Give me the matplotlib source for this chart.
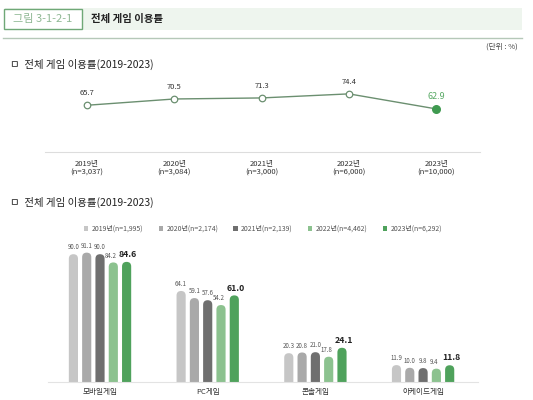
import matplotlib
matplotlib.use("Agg")
import matplotlib.pyplot as plt
from matplotlib.patches import Rectangle, FancyBboxPatch, Patch
import numpy as np

plt.rcParams['font.family'] = ['Noto Sans CJK KR', 'DejaVu Sans']

# line chart data
years = ["2019년", "2020년", "2021년", "2022년", "2023년"]
line_n = ["(n=3,037)", "(n=3,084)", "(n=3,000)", "(n=6,000)", "(n=10,000)"]
overall = [65.7, 70.5, 71.3, 74.4, 62.9]

# bar chart data
platforms = ["모바일게임", "PC게임", "콘솔게임", "아케이드게임"]
bar_n = ["(n=1,995)", "(n=2,174)", "(n=2,139)", "(n=4,462)", "(n=6,292)"]
rates = {
    "2019년": [90.0, 64.1, 20.3, 11.9],
    "2020년": [91.1, 59.1, 20.8, 10.0],
    "2021년": [90.0, 57.6, 21.0, 9.8],
    "2022년": [84.2, 54.2, 17.8, 9.4],
    "2023년": [84.6, 61.0, 24.1, 11.8],
}
bar_colors = ["#c6c6c6", "#a9a9a9", "#6f6f6f", "#8cc28f", "#4fa25c"]

fig = plt.figure(figsize=(5.33, 4.0), dpi=100)

# ---- header ----
def fx(px):
    return px / 533

def fy(py):
    return 1 - py / 400

fig.patches.append(Rectangle((fx(5), fy(30)), fx(517), 22 / 400, transform=fig.transFigure,
                             facecolor="#eef5ee", edgecolor="none", zorder=0))
fig.patches.append(Rectangle((fx(4), fy(29)), fx(78), 20 / 400, transform=fig.transFigure,
                             facecolor="white", edgecolor="#6fa877", linewidth=1.0, zorder=1))
fig.text(fx(43), fy(19), "그림 3-1-2-1", ha="center", va="center", fontsize=8, color="#8fb894")
fig.text(fx(91), fy(19), "전체 게임 이용률", ha="left", va="center", fontsize=7.5,
         color="#222222", fontweight="bold")
fig.add_artist(plt.Line2D([fx(3), fx(522)], [fy(38), fy(38)], transform=fig.transFigure,
                          color="#b5c8b8", linewidth=1.0))
fig.text(fx(518), fy(47), "(단위 : %)", ha="right", va="center", fontsize=5.5, color="#444444")
fig.text(fx(10), fy(64), "ㅁ  전체 게임 이용률(2019-2023)", ha="left", va="center",
         fontsize=7.5, color="#222222")
fig.text(fx(10), fy(202), "ㅁ  전체 게임 이용률(2019-2023)", ha="left", va="center",
         fontsize=7.5, color="#222222")

# ---- line chart ----
ax1 = fig.add_axes([fx(45), fy(152), fx(435), 72 / 400])
x = np.arange(len(years))
ax1.plot(x, overall, color="#6b8f70", linewidth=1.0, zorder=2)
ax1.scatter(x[:-1], overall[:-1], s=22, facecolor="white", edgecolor="#6b8f70",
            linewidth=0.9, zorder=3)
ax1.scatter(x[-1:], overall[-1:], s=30, facecolor="#3f9a50", edgecolor="#3f9a50", zorder=3)
for i, v in enumerate(overall):
    last = i == len(overall) - 1
    ax1.annotate(f"{v:.1f}", (i, v), xytext=(0, 6), textcoords="offset points",
                 ha="center", va="bottom", fontsize=6.5 if last else 5.5,
                 color="#5aaa66" if last else "#333333")
ax1.set_xlim(-0.48, 4.5)
ax1.set_ylim(30, 85)
ax1.set_xticks(x)
ax1.set_xticklabels([f"{y}\n{n}" for y, n in zip(years, line_n)], fontsize=5.5,
                    color="#333333", linespacing=1.1)
ax1.tick_params(axis="x", length=0, pad=6)
ax1.set_yticks([])
for s in ["top", "right", "left"]:
    ax1.spines[s].set_visible(False)
ax1.spines["bottom"].set_color("#dddddd")
ax1.spines["bottom"].set_linewidth(0.8)

# ---- bar chart ----
ax2 = fig.add_axes([fx(48), fy(382), fx(430), 142 / 400])
gx = np.arange(len(platforms))
step = 0.1235
width = 0.085
ax2.set_xlim(-0.483, 3.51)
ax2.set_ylim(0, 100)

bbox = ax2.get_position()
ax_w_px = bbox.width * 533
ax_h_px = bbox.height * 400
x_per_px = (3.51 + 0.483) / ax_w_px
y_per_px = 100 / ax_h_px
aspect = y_per_px / x_per_px

label_dx = [0, 0, 0, -1.5, 1.0]
handles = []
for k, (yr, vals) in enumerate(rates.items()):
    pos = gx + (k - 2) * step
    bars = ax2.bar(pos, vals, width=width, color=bar_colors[k], alpha=0)
    for b in bars:
        bx, bw, bh = b.get_x(), b.get_width(), b.get_height()
        r = bw / 2
        patch = FancyBboxPatch((bx, -r * aspect), bw, bh + r * aspect,
                               boxstyle=f"round,pad=0,rounding_size={r}",
                               mutation_aspect=aspect, facecolor=bar_colors[k],
                               edgecolor="none", clip_on=True)
        ax2.add_patch(patch)
    last = k == len(rates) - 1
    for p, v in zip(pos, vals):
        ax2.annotate(f"{v:.1f}", (p, v), xytext=(label_dx[k], 2), textcoords="offset points",
                     ha="center", va="bottom", fontsize=6.3 if last else 4.4,
                     fontweight="bold" if last else "normal",
                     color="#222222" if last else "#555555")
    handles.append(Patch(facecolor=bar_colors[k], edgecolor="none", label=f"{yr}{bar_n[k]}"))

ax2.set_xticks(gx)
ax2.set_xticklabels(platforms, fontsize=5.5, color="#333333")
ax2.tick_params(axis="x", length=0, pad=4)
ax2.set_yticks([])
for s in ["top", "right", "left"]:
    ax2.spines[s].set_visible(False)
ax2.spines["bottom"].set_color("#e3e3e3")
ax2.spines["bottom"].set_linewidth(0.8)

fig.legend(handles=handles, loc="center", bbox_to_anchor=(fx(263), fy(229)), ncol=5,
           frameon=False, fontsize=5, handlelength=0.6, handleheight=0.6, handletextpad=0.5,
           columnspacing=2.2, labelcolor="#555555")

fig.savefig("out.png", dpi=100)
